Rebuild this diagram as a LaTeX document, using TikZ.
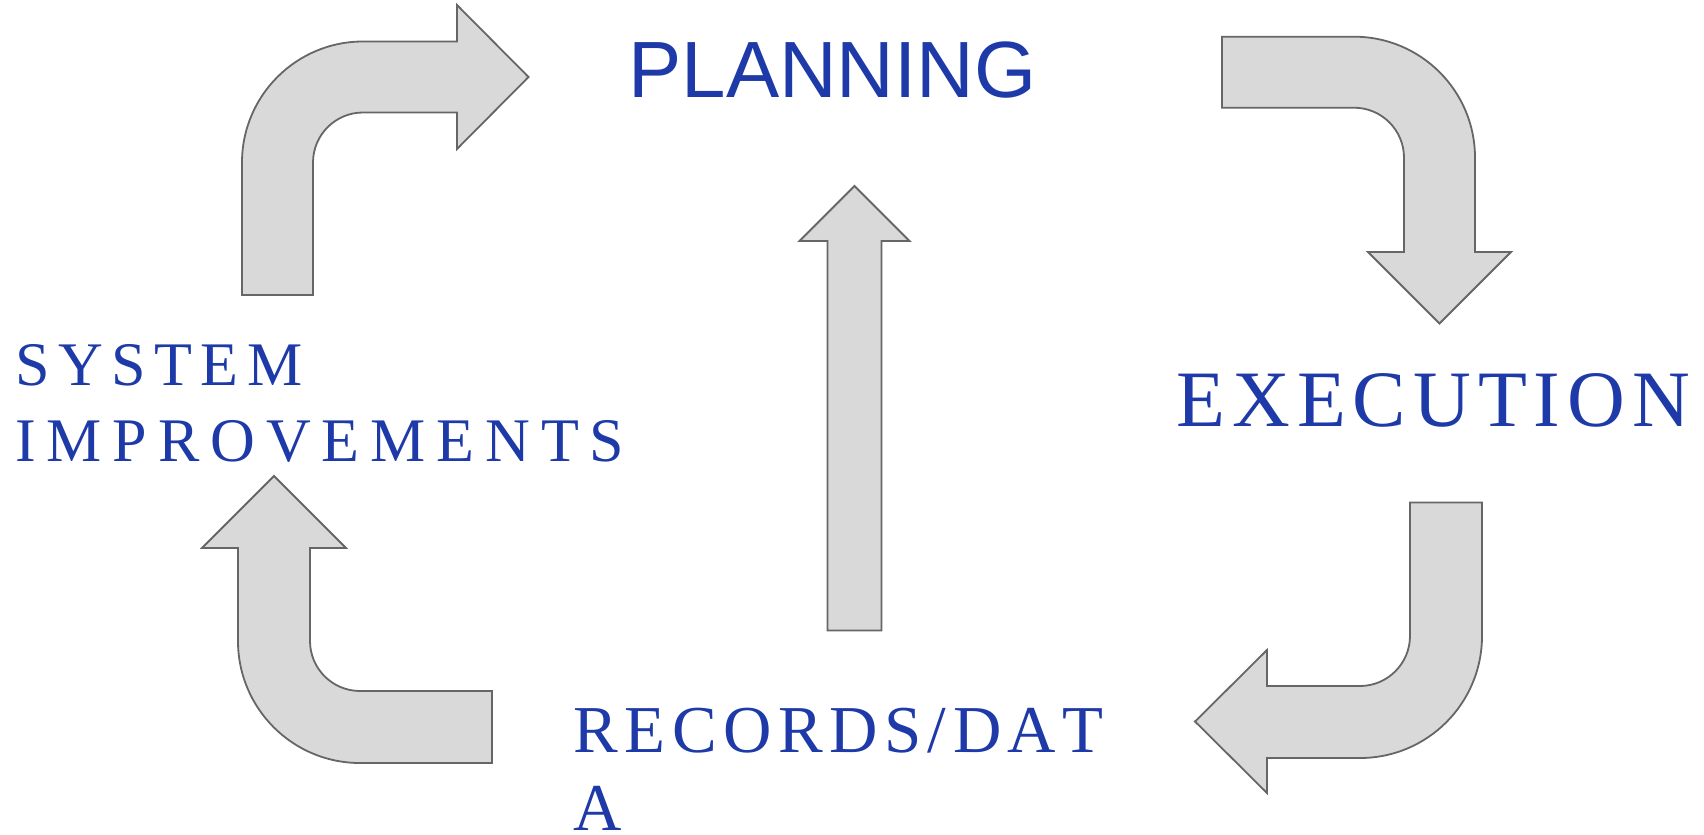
\documentclass[tikz,border=0pt]{standalone}
\usepackage{fontspec}
\setmainfont{Liberation Serif}
\newfontfamily\arialf{Liberation Sans}
\definecolor{txtblue}{RGB}{30,58,168}
\definecolor{arrfill}{HTML}{D9D9D9}
\definecolor{arrline}{HTML}{666666}
\newcommand\lsp[2]{{\def\lspk{#1}\lspA#2\relax}}
\def\lspA#1{\ifx#1\relax\else#1\expandafter\lspB\fi}
\def\lspB#1{\ifx#1\relax\else\kern\lspk#1\expandafter\lspB\fi}
\tikzset{
  bigarrow/.style={fill=arrfill, draw=arrline, line width=0.9pt, line join=miter},
  lbl/.style={inner sep=0pt, anchor=base west, text=txtblue},
}
\begin{document}
\begin{tikzpicture}[x=0.5pt,y=-0.5pt]
\useasboundingbox (0,0) rectangle (1704,835);
% top-left arrow (up then right)
\draw[bigarrow] (242,295) -- (242,162.5)
  .. controls (242,95.7) and (296.2,41.5) .. (363,41.5)
  -- (457,41.5) -- (457,5) -- (528.5,77) -- (457,149) -- (457,112.5) -- (363,112.5)
  .. controls (335.4,112.5) and (313,134.9) .. (313,162.5)
  -- (313,295) -- cycle;
% top-right arrow (right then down)
\draw[bigarrow] (1222,36.7) -- (1354,36.7)
  .. controls (1420.8,36.7) and (1475,90.9) .. (1475,157.7)
  -- (1475,252) -- (1511,252) -- (1439.5,323.5) -- (1368,252) -- (1404,252) -- (1404,157.7)
  .. controls (1404,130.1) and (1381.6,107.7) .. (1354,107.7)
  -- (1222,107.7) -- cycle;
% bottom-right arrow (down then left)
\draw[bigarrow] (1410,502.5) -- (1482,502.5) -- (1482,636)
  .. controls (1482,703.4) and (1427.4,758) .. (1360,758)
  -- (1267,758) -- (1267,793) -- (1195,721.5) -- (1267,650) -- (1267,686) -- (1360,686)
  .. controls (1387.6,686) and (1410,663.4) .. (1410,636)
  -- cycle;
% bottom-left arrow (left then up)
\draw[bigarrow] (492,763) -- (360,763)
  .. controls (292.6,763) and (238,708.4) .. (238,641)
  -- (238,548) -- (202,548) -- (274,476) -- (346,548) -- (310,548) -- (310,641)
  .. controls (310,668.6) and (332.4,691) .. (360,691)
  -- (492,691) -- cycle;
% centre arrow (up)
\draw[bigarrow] (827.5,630.5) -- (827.5,241) -- (799.5,241) -- (854.5,186)
  -- (909.5,241) -- (881.5,241) -- (881.5,630.5) -- cycle;
% labels
\node[lbl, font=\arialf\fontsize{39.9pt}{48pt}\selectfont] (plan) at (628,97.8) {PLANNING};
\node[lbl, font=\fontsize{31pt}{37pt}\selectfont] (sys1) at (15,385.8) {\lsp{4.25pt}{SYSTEM}};
\node[lbl, font=\fontsize{31pt}{37pt}\selectfont] (sys2) at (15,461.8) {\lsp{5.45pt}{IMPROVEMENTS}};
\node[lbl, font=\fontsize{40pt}{48pt}\selectfont] (exec) at (1176,426) {\lsp{3.5pt}{EXECUTION}};
\node[lbl, font=\fontsize{33.5pt}{40pt}\selectfont] (rec1) at (573,752) {\lsp{3.25pt}{RECORDS/DAT}};
\node[lbl, font=\fontsize{33.5pt}{40pt}\selectfont] (rec2) at (573,830.5) {A};
\end{tikzpicture}
\end{document}
